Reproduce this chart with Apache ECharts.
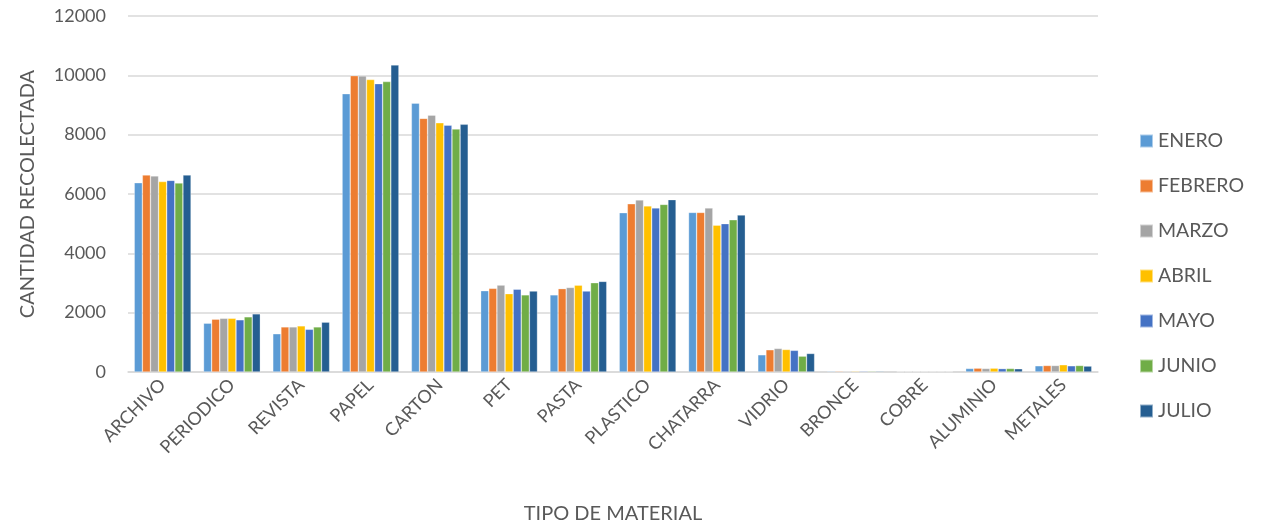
<!DOCTYPE html>
<html>
<head>
<meta charset="utf-8">
<script src="https://cdn.jsdelivr.net/npm/echarts@6/dist/echarts.min.js"></script>
<style>
  html, body { margin: 0; padding: 0; background: #fff; }
  #chart { width: 1262px; height: 529px; }
</style>
</head>
<body>
<div id="chart"></div>
<script>
const materiales = ["ARCHIVO", "PERIODICO", "REVISTA", "PAPEL", "CARTON", "PET", "PASTA",
  "PLASTICO", "CHATARRA", "VIDRIO", "BRONCE", "COBRE", "ALUMINIO", "METALES"];
const meses = ["ENERO", "FEBRERO", "MARZO", "ABRIL", "MAYO", "JUNIO", "JULIO"];
const colores = ["#5b9bd5", "#ed7d31", "#a5a5a5", "#ffc000", "#4472c4", "#70ad47", "#255e91"];

const enero   = [6380, 1645, 1290, 9380, 9060, 2740, 2600, 5370, 5380, 580, 30, 20, 120, 210];
const febrero = [6640, 1780, 1520, 9990, 8550, 2820, 2810, 5670, 5380, 750, 30, 20, 130, 220];
const marzo   = [6610, 1810, 1520, 9980, 8660, 2930, 2850, 5800, 5530, 795, 30, 20, 120, 220];
const abril   = [6420, 1810, 1555, 9860, 8400, 2640, 2930, 5600, 4950, 760, 30, 20, 130, 245];
const mayo    = [6460, 1760, 1440, 9720, 8320, 2790, 2730, 5530, 5000, 730, 30, 20, 115, 210];
const junio   = [6370, 1860, 1520, 9790, 8190, 2600, 3010, 5650, 5130, 535, 30, 20, 120, 220];
const julio   = [6640, 1960, 1680, 10350, 8350, 2730, 3055, 5810, 5290, 625, 30, 20, 110, 200];
const valores = [enero, febrero, marzo, abril, mayo, junio, julio];

const yTicks = [0, 2000, 4000, 6000, 8000, 10000, 12000];

const font = "Lato, 'Open Sans', sans-serif";
const chart = echarts.init(document.getElementById("chart"));
chart.setOption({
  animation: false,
  color: colores,
  textStyle: { fontFamily: font },
  grid: { left: 128, right: 164, top: 16, bottom: 155 },
  legend: {
    orient: "vertical",
    left: 1134,
    top: 126,
    itemWidth: 13,
    itemHeight: 13,
    itemGap: 25,
    icon: "rect",
    textStyle: { fontSize: 19.5, color: "#595959", fontFamily: font },
    data: meses
  },
  xAxis: {
    type: "category",
    data: materiales,
    name: "TIPO DE MATERIAL",
    nameLocation: "middle",
    nameGap: 132,
    nameTextStyle: { fontSize: 20, color: "#595959" },
    axisLine: { lineStyle: { color: "#d9d9d9", width: 1.5 } },
    axisTick: { show: false },
    axisLabel: { rotate: 45, fontSize: 18, color: "#595959", margin: 10, interval: 0 }
  },
  yAxis: {
    type: "value",
    min: yTicks[0],
    max: yTicks[yTicks.length - 1],
    interval: 2000,
    name: "CANTIDAD RECOLECTADA",
    nameLocation: "middle",
    nameGap: 90,
    nameTextStyle: { fontSize: 20, color: "#595959" },
    axisLine: { show: false },
    axisTick: { show: false },
    axisLabel: { fontSize: 18, color: "#595959", margin: 22, formatter: v => String(v) },
    splitLine: { lineStyle: { color: "#d9d9d9", width: 1.5 } }
  },
  series: meses.map((m, i) => ({
    name: m,
    type: "bar",
    data: valores[i],
    barGap: "0%",
    barCategoryGap: "18%",
    itemStyle: { borderColor: "rgba(255,255,255,0.5)", borderWidth: 0.6 }
  }))
});
</script>
</body>
</html>
